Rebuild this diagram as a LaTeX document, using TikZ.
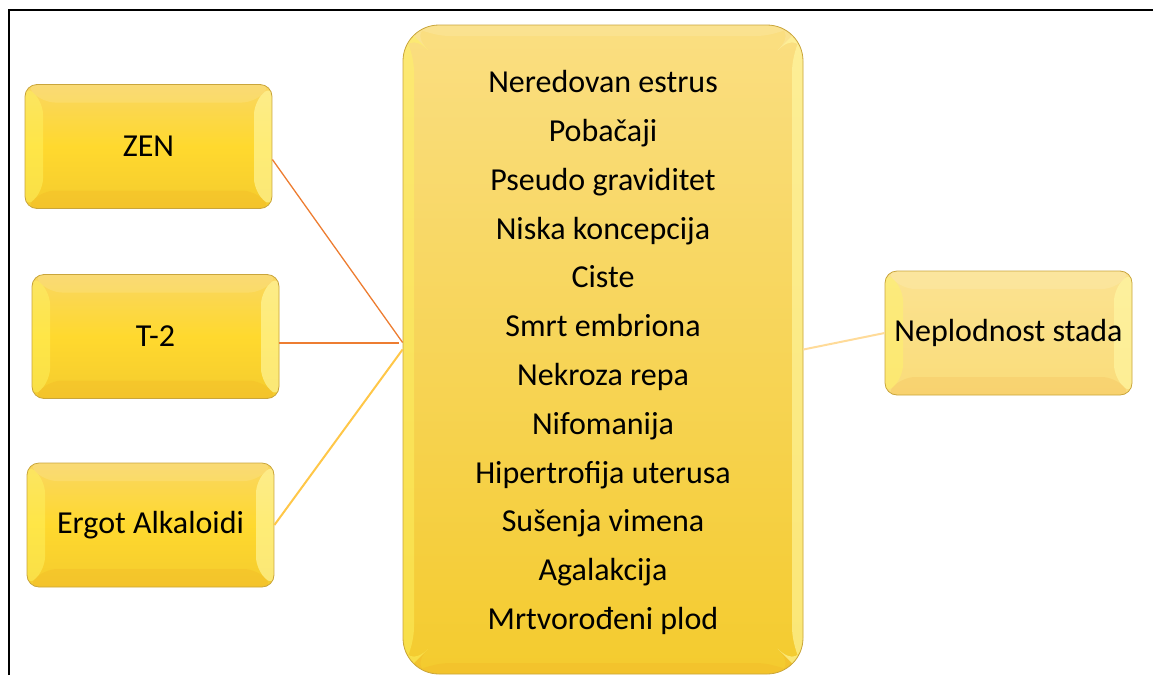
\documentclass[tikz,border=0pt]{standalone}
\usepackage{fontspec}
\setmainfont{Carlito}
\usetikzlibrary{calc}
\usetikzlibrary{positioning}
\definecolor{rub}{HTML}{C9A53B}
\definecolor{zlatoV}{HTML}{F9D662}
\definecolor{zlatoS}{HTML}{FFD92E}
\definecolor{zlatoD}{HTML}{F4CB2E}
\definecolor{narL}{HTML}{ED7D31}
\definecolor{zutL}{HTML}{FFC748}
\definecolor{blijedL}{HTML}{FFDB99}

\begin{document}
\begin{tikzpicture}[x=1pt,y=-1pt]
  \tikzstyle{bevel}=[path picture={
      \fill[yellow!35!white,opacity=.6] (path picture bounding box.north east) -- (path picture bounding box.south east)
        -- ($(path picture bounding box.south east)+(-#1,-#1)$) -- ($(path picture bounding box.north east)+(-#1,#1)$) -- cycle;
      \fill[yellow!60!white,opacity=.45] (path picture bounding box.north west) -- (path picture bounding box.south west)
        -- ($(path picture bounding box.south west)+(#1,-#1)$) -- ($(path picture bounding box.north west)+(#1,#1)$) -- cycle;
      \fill[white,opacity=.12] (path picture bounding box.north west) -- (path picture bounding box.north east)
        -- ($(path picture bounding box.north east)+(-#1,#1)$) -- ($(path picture bounding box.north west)+(#1,#1)$) -- cycle;
      \fill[orange!70!brown,opacity=.10] (path picture bounding box.south west) -- (path picture bounding box.south east)
        -- ($(path picture bounding box.south east)+(-#1,-#1)$) -- ($(path picture bounding box.south west)+(#1,-#1)$) -- cycle;
    }]
  \tikzstyle{kutija}=[draw=rub,line width=0.8pt,rounded corners=12pt,
    top color=zlatoV,bottom color=zlatoD,middle color=zlatoS,
    minimum width=247pt,minimum height=124pt,inner sep=0pt,align=center,
    font=\fontsize{32}{38}\selectfont,bevel=18]
  \tikzstyle{veza}=[line width=1.3pt,draw=narL]

  % okvir
  \useasboundingbox (0,0) rectangle (1153,675);
  \draw[line width=1.6pt] (9,675) -- (9,10) -- (1153,10);

  % mikotoksini
  \foreach \x/\y/\txt/\name in {148.5/146.5/ZEN/zen, 155.5/336.5/T-2/tdva, 150.5/525/Ergot Alkaloidi/ergot}
    \node[kutija] (\name) at (\x,\y) {\txt};

  % posljedice
  \node[kutija,minimum width=400pt,minimum height=649pt,rounded corners=36pt,
        top color=zlatoV!80!white,middle color=zlatoV,bottom color=zlatoD,bevel=11] (posljedice) at (603,349.5) {};
  \node[align=center,inner sep=0pt,font=\fontsize{32}{48.8}\selectfont] (popis) at ($(posljedice.center)+(0,3)$)
    {Neredovan estrus\\Pobačaji\\Pseudo graviditet\\Niska koncepcija\\Ciste\\Smrt embriona\\Nekroza repa\\Nifomanija\\Hipertrofija uterusa\\Sušenja vimena\\Agalakcija\\Mrtvorođeni plod};

  \node[kutija,top color=zlatoV!70!white,middle color=zlatoV!75!white,bottom color=zlatoV!85!white] (neplodnost) at (1008.5,333) {Neplodnost stada};

  \draw[veza] (zen.-6) -- (posljedice.178);
  \draw[veza,shorten >=4pt] (tdva.-3) -- (tdva.-3 -| posljedice.west);
  \draw[veza,draw=zutL,line width=2pt] (ergot.east) -- (posljedice.west);
  \draw[veza,draw=blijedL,line width=2pt] (posljedice.east) -- (neplodnost.west);
\end{tikzpicture}
\end{document}
